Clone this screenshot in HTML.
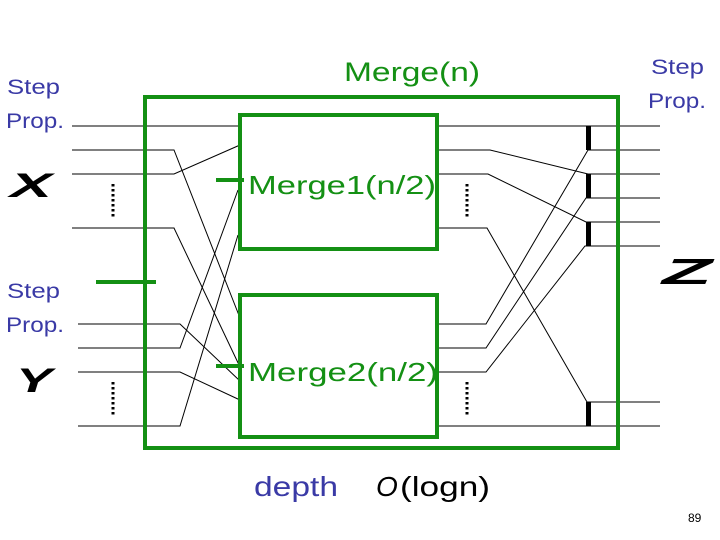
<!DOCTYPE html>
<html><head><style>body{margin:0;background:#fff}svg{display:block}</style></head><body>
<svg width="720" height="540" xmlns="http://www.w3.org/2000/svg" font-family="Liberation Sans, sans-serif">
<rect width="720" height="540" fill="#fff"/>
<g stroke="#000" stroke-width="1" fill="none">
<polyline points="72,126 240,126"/>
<polyline points="72,150 174,150 240,318"/>
<polyline points="72,174 174,174 240,145"/>
<polyline points="72,228 174,228 240,367"/>
<polyline points="78,324 180,324 240,381"/>
<polyline points="78,348 180,348 238,190"/>
<polyline points="78,372 180,372 240,400"/>
<polyline points="78,426 180,426 238,235"/>
<polyline points="438,126 660,126"/>
<polyline points="438,150 490,150 588,174 660,174"/>
<polyline points="438,174 488,174 586,222 660,222"/>
<polyline points="438,228 487,228 587,402 660,402"/>
<polyline points="438,324 486,324 588,150 660,150"/>
<polyline points="438,348 486,348 586,198 660,198"/>
<polyline points="438,372 486,372 585,246 660,246"/>
<polyline points="438,426 660,426"/>
</g>
<g stroke="#149014" stroke-width="4" fill="none">
<rect x="145" y="97" width="473" height="351"/>
<rect x="240" y="115" width="197" height="134"/>
<rect x="240" y="295" width="197" height="142"/>
<line x1="96" y1="282" x2="156" y2="282"/>
<line x1="216" y1="180" x2="244" y2="180"/>
<line x1="216" y1="366" x2="244" y2="366"/>
</g>
<g fill="#000">
<rect x="586" y="126" width="5" height="24"/>
<rect x="586" y="174" width="5" height="24"/>
<rect x="586" y="222" width="5" height="24"/>
<rect x="586" y="402" width="5" height="24"/>
</g>
<g stroke="#000" stroke-width="3" stroke-dasharray="2.5,2.5">
<line x1="113" y1="184" x2="113" y2="217"/>
<line x1="113" y1="382" x2="113" y2="415"/>
<line x1="467" y1="184" x2="467" y2="217"/>
<line x1="467" y1="382" x2="467" y2="415"/>
</g>
<g fill="#149014" font-size="27">
<text x="344" y="81" textLength="136" lengthAdjust="spacingAndGlyphs">Merge(n)</text>
<text x="248" y="194" font-size="26" textLength="188" lengthAdjust="spacingAndGlyphs">Merge1(n/2)</text>
<text x="248" y="381" font-size="26" textLength="190" lengthAdjust="spacingAndGlyphs">Merge2(n/2)</text>
</g>
<g fill="#3a3aa6" font-size="21">
<text x="7" y="94" textLength="53" lengthAdjust="spacingAndGlyphs">Step</text>
<text x="6" y="128" textLength="58" lengthAdjust="spacingAndGlyphs">Prop.</text>
<text x="7" y="298" textLength="53" lengthAdjust="spacingAndGlyphs">Step</text>
<text x="6" y="332" textLength="58" lengthAdjust="spacingAndGlyphs">Prop.</text>
<text x="651" y="74" textLength="53" lengthAdjust="spacingAndGlyphs">Step</text>
<text x="648" y="108" textLength="58" lengthAdjust="spacingAndGlyphs">Prop.</text>
<text x="254" y="496" font-size="28" textLength="84" lengthAdjust="spacingAndGlyphs">depth</text>
</g>
<g fill="#000" font-style="italic" font-weight="bold">
<text x="10" y="197" font-size="34" textLength="42" lengthAdjust="spacingAndGlyphs">X</text>
<text x="16" y="392" font-size="34" textLength="36" lengthAdjust="spacingAndGlyphs">Y</text>
<text x="662" y="284" font-size="36" textLength="50" lengthAdjust="spacingAndGlyphs">Z</text>
</g>
<text x="376" y="496" font-size="28" fill="#000" font-style="italic">O</text>
<text x="400" y="496" font-size="28" fill="#000" textLength="90" lengthAdjust="spacingAndGlyphs">(logn)</text>
<text x="688" y="522" font-size="12" fill="#000">89</text>
</svg>
</body></html>
